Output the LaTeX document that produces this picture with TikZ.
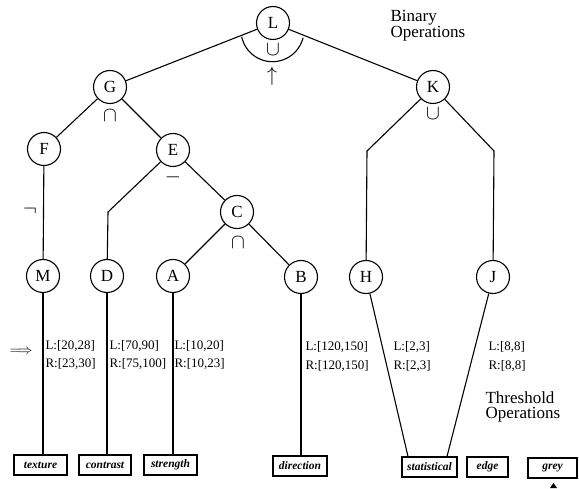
\documentclass[tikz,border=0pt]{standalone}
\usepackage{fontspec}
\setmainfont{Liberation Serif}
\usetikzlibrary{calc}
\begin{document}
\begin{tikzpicture}[x=1pt,y=-1pt, line width=1.1pt,
  vtx/.style={circle, draw, minimum size=33pt, inner sep=0pt, font=\fontsize{17}{17}\selectfont},
  leaf/.style={draw, minimum height=20pt, inner sep=0pt, font=\fontsize{11.5}{11.5}\selectfont\bfseries\itshape},
  lbl/.style={font=\fontsize{13}{13}\selectfont, anchor=base west, inner sep=0pt},
  title/.style={font=\fontsize{17}{14.5}\selectfont, align=left, anchor=base west, inner sep=0pt},
  op/.style={font=\fontsize{20}{20}\selectfont, inner sep=0pt}]
\useasboundingbox (0,0) rectangle (579,489);

% tree nodes
\node[vtx] (L) at (273,23) {L};
\node[vtx] (G) at (110,87) {G};
\node[vtx] (K) at (433,87) {K};
\node[vtx] (F) at (44,149) {F};
\node[vtx] (E) at (173,150) {E};
\node[vtx] (C) at (237,212) {C};
\node[vtx] (M) at (43,276) {M};
\node[vtx] (D) at (107,276) {D};
\node[vtx] (A) at (173,276) {A};
\node[vtx] (B) at (301,277) {B};
\node[vtx] (H) at (366,277) {H};
\node[vtx] (J) at (493,277) {J};

% leaf boxes
\node[leaf, minimum width=53pt] (texture) at (40.5,465) {texture};
\node[leaf, minimum width=52pt] (contrast) at (105,465) {contrast};
\node[leaf, minimum width=53pt] (strength) at (170.5,465) {strength};
\node[leaf, minimum width=54pt] (direction) at (300,466) {direction};
\node[leaf, minimum width=55pt] (stat) at (429.5,467) {statistical};
\node[leaf, minimum width=41pt] (edge) at (487.5,467) {edge};
\node[leaf, minimum width=49pt] (grey) at (552.5,468) {grey};
\fill (550,488) -- (553.5,483) -- (557,488) -- cycle;

% tree edges
\draw (G) -- (L);
\draw (L) -- (K);
\draw (G) -- (F);
\draw (G) -- (E);
\draw (F) -- (M);
\draw (E) -- (108,212) -- (D);
\draw (E) -- (C);
\draw (C) -- (A);
\draw (C) -- (B);
\draw (K) -- (367,151) -- (H);
\draw (K) -- (494,151) -- (J);

% node-to-box connectors
\draw (M.south) -- (M.south |- texture.north);
\draw (D.south) -- (D.south |- contrast.north);
\draw (A.south) -- (A.south |- strength.north);
\draw (B.south) -- (B.south |- direction.north);
\draw (H) -- ($(stat.north)+(-21.5,0)$);
\draw (J) -- ($(stat.north)+(17.5,0)$);

% semicircle at L
\draw (272.5,30.2) ++(168:31.5) arc[start angle=168, end angle=14, radius=31.5];

% operators
\node[op] (opL) at (273,50) {$\cup$};
\node[op] (arr) at (272,76) {$\uparrow$};
\node[op] (opG) at (110,116) {$\cap$};
\node[op] (opK) at (433,114) {$\cup$};
\node[op] (opE) at (173,177) {$-$};
\node[op] (opC) at (238,243) {$\cap$};
\node[op] (opF) at (30,211) {$\neg$};
\node[op, font=\fontsize{14}{14}\selectfont] (dbl) at (21,352) {$\Longrightarrow$};

% interval labels
\node[lbl] (l1) at (45,350) {L:[20,28]};
\node[lbl] (r1) at (45,368) {R:[23,30]};
\node[lbl] (l2) at (109,350) {L:[70,90]};
\node[lbl] (r2) at (109,368) {R:[75,100]};
\node[lbl] (l3) at (174,350) {L:[10,20]};
\node[lbl] (r3) at (174,368) {R:[10,23]};
\node[lbl] (l4) at (305,351) {L:[120,150]};
\node[lbl] (r4) at (305,370) {R:[120,150]};
\node[lbl] (l5) at (393,351) {L:[2,3]};
\node[lbl] (r5) at (393,370) {R:[2,3]};
\node[lbl] (l6) at (488,351) {L:[8,8]};
\node[lbl] (r6) at (488,370) {R:[8,8]};

% titles (base anchor = last line)
\node[title] (bin) at (390,37.5) {Binary\\Operations};
\node[title] (thr) at (485,418) {Threshold\\Operations};
\end{tikzpicture}
\end{document}
